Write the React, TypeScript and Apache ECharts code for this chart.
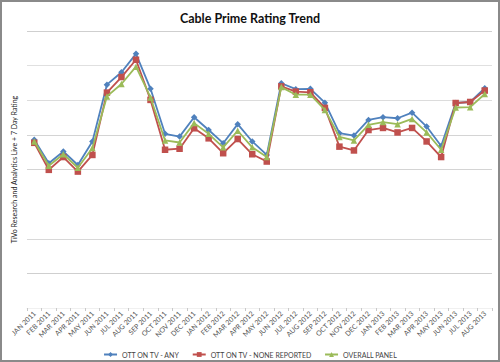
import React, { useEffect, useRef } from "react";
import * as echarts from "echarts";

const categories = [
  "JAN 2011", "FEB 2011", "MAR 2011", "APR 2011", "MAY 2011", "JUN 2011", "JUL 2011", "AUG 2011",
  "SEP 2011", "OCT 2011", "NOV 2011", "DEC 2011", "JAN 2012", "FEB 2012", "MAR 2012", "APR 2012",
  "MAY 2012", "JUN 2012", "JUL 2012", "AUG 2012", "SEP 2012", "OCT 2012", "NOV 2012", "DEC 2012",
  "JAN 2013", "FEB 2013", "MAR 2013", "APR 2013", "MAY 2013", "JUN 2013", "JUL 2013", "AUG 2013",
];

const ottAny = [
  4.86, 4.18, 4.52, 4.13, 4.81, 6.45, 6.81, 7.34, 6.33, 5.03, 4.95, 5.51, 5.14, 4.76, 5.31, 4.81,
  4.42, 6.49, 6.32, 6.33, 5.93, 5.05, 4.98, 5.43, 5.51, 5.48, 5.64, 5.24, 4.68, 5.92, 5.95, 6.35,
];

const ottNone = [
  4.77, 3.99, 4.36, 3.94, 4.42, 6.22, 6.67, 7.17, 6.01, 4.57, 4.6, 5.19, 4.9, 4.47, 4.88, 4.44,
  4.23, 6.4, 6.25, 6.23, 5.78, 4.66, 4.55, 5.14, 5.2, 5.07, 5.2, 4.81, 4.36, 5.92, 5.95, 6.28,
];

const overallPanel = [
  4.81, 4.11, 4.44, 4.05, 4.62, 6.11, 6.47, 6.97, 6.08, 4.84, 4.78, 5.34, 5.03, 4.64, 5.12, 4.64,
  4.36, 6.38, 6.16, 6.16, 5.72, 4.94, 4.84, 5.29, 5.37, 5.31, 5.46, 5.07, 4.57, 5.79, 5.8, 6.18,
];

const seriesNames = ["OTT ON TV - ANY", "OTT ON TV - NONE REPORTED", "OVERALL PANEL"];
const titleText = "Cable Prime Rating Trend";
const yAxisName = "TiVo Research and Analytics Live + 7 Day Rating";

export default function App() {
  const ref = useRef<HTMLDivElement>(null);

  useEffect(() => {
    if (!ref.current) return;
    const chart = echarts.init(ref.current, null, { renderer: "svg" });
    const font = "Lato, 'Open Sans', sans-serif";
    chart.setOption({
      animation: false,
      backgroundColor: "#ffffff",
      textStyle: { fontFamily: font },
      title: {
        text: titleText,
        left: "center",
        top: 7,
        textStyle: { fontSize: 12.5, fontWeight: "bold", color: "#111", fontFamily: font },
      },
      graphic: [
        {
          type: "rect",
          shape: { x: 1, y: 1, width: 498, height: 360 },
          style: { fill: "none", stroke: "#8a8a8a", lineWidth: 2 },
          silent: true,
        },
      ],
      legend: {
        left: "center",
        top: 346,
        itemWidth: 13,
        itemHeight: 6,
        itemGap: 12,
        textStyle: { fontSize: 7, color: "#444", fontFamily: font },
        data: seriesNames,
      },
      grid: { left: 27, right: 8, top: 31, bottom: 54, containLabel: false },
      xAxis: {
        type: "category",
        data: categories,
        boundaryGap: true,
        axisLine: { show: true, lineStyle: { color: "#f0f0f0", width: 1 } },
        axisTick: { show: true, length: 3, lineStyle: { color: "#c8c8c8" } },
        axisLabel: { interval: 0, rotate: 45, fontSize: 7, color: "#555", margin: 4, fontFamily: font },
      },
      yAxis: {
        type: "value",
        min: 0,
        max: 8,
        interval: 1,
        name: yAxisName,
        nameLocation: "middle",
        nameRotate: 90,
        nameGap: 10,
        nameTextStyle: { fontSize: 7, color: "#222", fontFamily: font },
        axisLabel: { show: false },
        axisLine: { show: false },
        axisTick: { show: false },
        splitLine: {
          show: true,
          lineStyle: {
            color: ["transparent", "#cfcfcf", "#d8d8d8", "transparent", "#d4d4d4", "#d4d4d4", "#dcdcdc", "#e0e0e0", "#cfcfcf"],
            width: 1,
          },
        },
      },
      series: [
        {
          name: seriesNames[0],
          type: "line",
          data: ottAny,
          symbol: "diamond",
          symbolSize: 6.5,
          itemStyle: { color: "#4F81BD" },
          lineStyle: { color: "#4F81BD", width: 1.8 },
          z: 2,
        },
        {
          name: seriesNames[1],
          type: "line",
          data: ottNone,
          symbol: "rect",
          symbolSize: 6.5,
          itemStyle: { color: "#C0504D" },
          lineStyle: { color: "#C0504D", width: 1.8 },
          z: 3,
        },
        {
          name: seriesNames[2],
          type: "line",
          data: overallPanel,
          symbol: "triangle",
          symbolSize: 6.5,
          itemStyle: { color: "#9BBB59" },
          lineStyle: { color: "#9BBB59", width: 1.8 },
          z: 4,
        },
      ],
    });
    return () => chart.dispose();
  }, []);

  return (
    <div
      ref={ref}
      style={{ position: "fixed", left: 0, top: 0, width: 500, height: 362 }}
    />
  );
}
